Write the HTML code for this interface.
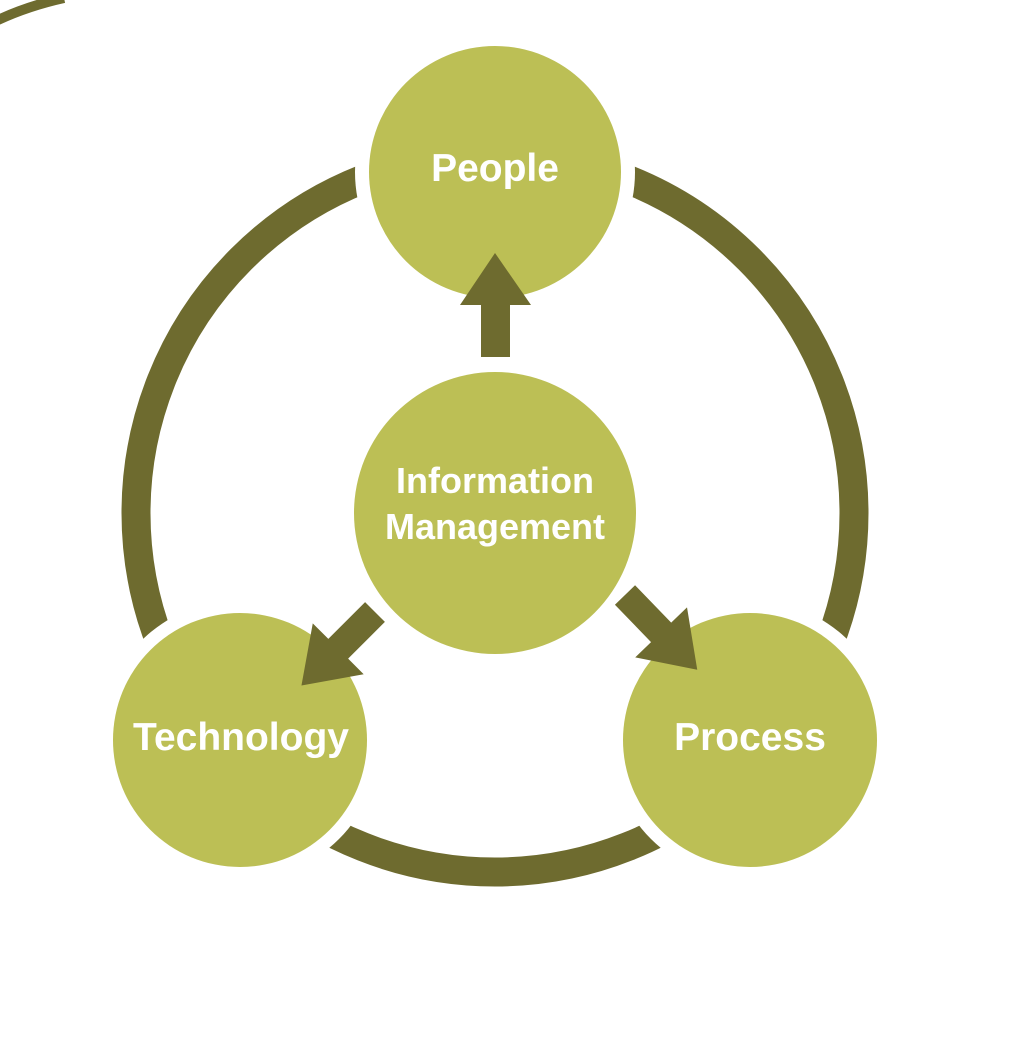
<!DOCTYPE html>
<html><head><style>html,body{margin:0;padding:0;background:#fff;}svg{display:block}</style></head>
<body>
<svg width="1018" height="1040" viewBox="0 0 1018 1040" xmlns="http://www.w3.org/2000/svg">
<path d="M-2,20 Q28,6 64,-2" stroke="#6e6b2f" stroke-width="10" fill="none"/>
<circle cx="495" cy="513" r="359" fill="none" stroke="#6e6b2f" stroke-width="29"/>
<g fill="#fff">
<circle cx="495" cy="172" r="140"/>
<circle cx="240" cy="740" r="140"/>
<circle cx="750" cy="740" r="140"/>
</g>
<g fill="#bcbf55">
<circle cx="495" cy="172" r="126"/>
<circle cx="495" cy="513" r="141"/>
<circle cx="240" cy="740" r="127"/>
<circle cx="750" cy="740" r="127"/>
</g>
<g fill="#6e6b2f">
<polygon points="481,357 510,357 510,305 531,305 495,253 460,305 481,305"/>
<g transform="translate(375,612) rotate(135)">
<polygon points="0,-14 52,-14 52,-36 104,0 52,36 52,14 0,14"/>
</g>
<g transform="translate(625,595) rotate(46)">
<polygon points="0,-14 52,-14 52,-36 104,0 52,36 52,14 0,14"/>
</g>
</g>
<g fill="#fff" font-family="Liberation Sans, sans-serif" font-weight="bold" text-anchor="middle">
<text x="495" y="181" font-size="39">People</text>
<text x="495" y="493" font-size="36">Information</text>
<text x="495" y="539" font-size="36">Management</text>
<text x="241" y="750" font-size="39">Technology</text>
<text x="750" y="750" font-size="39">Process</text>
</g>
</svg>
</body></html>
